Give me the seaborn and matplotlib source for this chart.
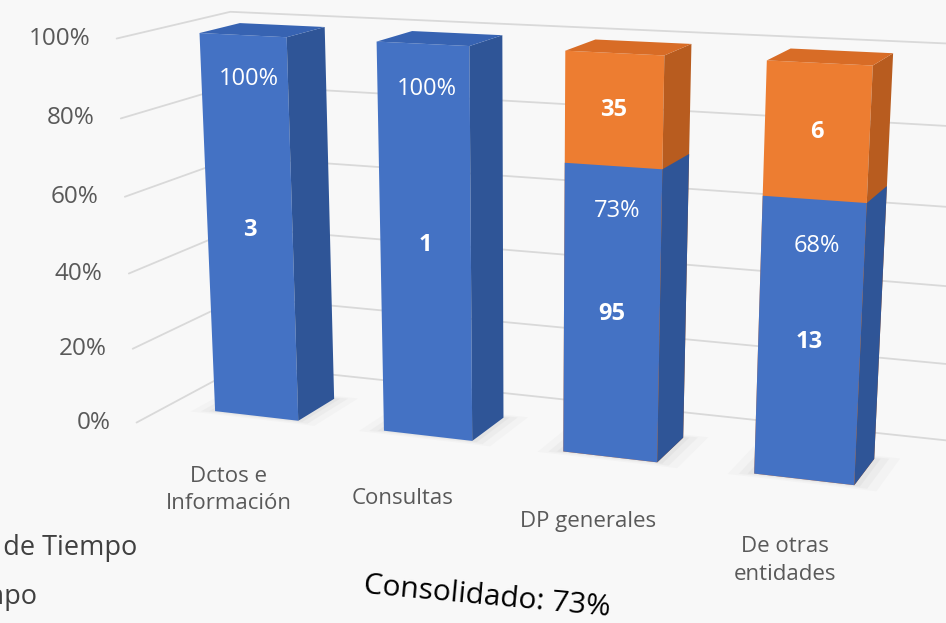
import numpy as np
import pandas as pd
import matplotlib
matplotlib.use("Agg")
import matplotlib.pyplot as plt
import matplotlib.transforms as mtransforms
from matplotlib.patches import Polygon
import seaborn as sns

categories = ["Dctos e\nInformación", "Consultas", "DP generales", "De otras\nentidades"]
en_tiempo = [3, 1, 95, 13]
fuera_tiempo = [0, 0, 35, 6]
legend_labels = ["Fuera de Tiempo", "En Tiempo"]
yticks = [0, 20, 40, 60, 80, 100]

# 3d view of the excel chart: camera matrix (x = category, y = share 0..1, z = depth) -> pixels
P = np.array([[1.58724e+02, -2.53328e+01, 4.64952e+01, 2.56385e+02],
              [6.97021e+00, -3.82494e+02, -8.78064e+00, 4.15915e+02],
              [-2.95582e-02, -4.81973e-02, 3.26131e-02, 1.0]])
D = 1.0            # bar depth
Zb = 1.99          # back wall
Xl, Zf = -0.54, -0.76   # side wall


def proj(X, Y, Z):
    h = P @ np.array([X, Y, Z, 1.0])
    return h[:2] / h[2]


class Persp(mtransforms.Transform):
    input_dims = output_dims = 2

    def transform_non_affine(self, xy):
        xy = np.asarray(xy, dtype=float)
        h = P @ np.vstack([xy[:, 0], xy[:, 1] / 100, np.zeros(len(xy)), np.ones(len(xy))])
        return np.column_stack([h[0] / h[2], h[1] / h[2]])


blue, blue_side, blue_top = "#4472C4", "#2F5597", "#3763B2"
orange, orange_side, orange_top = "#ED7D31", "#B85C1F", "#D86C26"
grid_c = "#D9D9D9"
bg = "#F8F8F8"

df = pd.DataFrame({"cat": categories, "en": en_tiempo, "fuera": fuera_tiempo})
df["pct"] = df["en"] / (df["en"] + df["fuera"]) * 100
df["top"] = np.where(df["fuera"] > 0, 100, 0)
consolidado = df["en"].sum() / (df["en"].sum() + df["fuera"].sum()) * 100

sns.set_theme(style="white")
plt.rcParams["font.family"] = ["Open Sans", "DejaVu Sans"]

fig = plt.figure(figsize=(9.46, 6.23), dpi=100, facecolor=bg)
ax = fig.add_axes([0, 0, 1, 1])
ax.set_facecolor(bg)

sns.barplot(data=df, x="cat", y="top", color=orange, saturation=1, width=0.5, linewidth=0, ax=ax)
sns.barplot(data=df, x="cat", y="pct", color=blue, saturation=1, width=0.5, linewidth=0, ax=ax)

tr = Persp() + ax.transData
for k, p in enumerate(ax.patches):
    is_blue = k >= len(df)
    x0, w, y0, h = p.get_x(), p.get_width(), p.get_y(), p.get_height()
    if h <= 0:
        p.set_visible(False)
        continue
    p.set_transform(tr)
    p.set_zorder(2)
    y1 = (y0 + h) / 100
    xr = x0 + w
    if is_blue:
        # soft floor shadow
        for s, a in [(0.12, 0.12), (0.07, 0.18), (0.03, 0.25)]:
            sh = [proj(x0 - s, 0, -s), proj(xr + s, 0, -s), proj(xr + s, 0, D + s), proj(x0 - s, 0, D + s)]
            ax.add_patch(Polygon(sh, closed=True, color="#D0D0D0", alpha=a, lw=0, zorder=1))
    side = [proj(xr, y0 / 100, 0), proj(xr, y1, 0), proj(xr, y1, D), proj(xr, y0 / 100, D)]
    ax.add_patch(Polygon(side, closed=True, color=blue_side if is_blue else orange_side, lw=0, zorder=2))
    if y1 >= 0.999:
        top = [proj(x0, 1, 0), proj(xr, 1, 0), proj(xr, 1, D), proj(x0, 1, D)]
        ax.add_patch(Polygon(top, closed=True, color=blue_top if is_blue else orange_top, lw=0, zorder=2))

# walls
for t in yticks:
    y = t / 100
    a, b, c = proj(Xl, y, Zf), proj(Xl, y, Zb), proj(4.6, y, Zb)
    ax.plot([a[0], b[0], c[0]], [a[1], b[1], c[1]], color=grid_c, lw=1.3, zorder=0)
    ax.text(a[0] - 26, a[1], f"{t}%", ha="right", va="center", fontsize=17.5, color="#595959")

# labels in bars
for i, r in df.iterrows():
    u, v = proj(i, (r["pct"] - 11) / 100, 0)
    ax.text(u + 4, v, f"{r['pct']:.0f}%", ha="center", va="center", fontsize=17, color="white", zorder=5)
    u, v = proj(i, r["pct"] / 200, 0)
    ax.text(u, v, f"{r['en']}", ha="center", va="center", fontsize=17, color="white", weight="bold", zorder=5)
    if r["fuera"] > 0:
        u, v = proj(i, (r["pct"] + 100) / 200, 0)
        ax.text(u, v, f"{r['fuera']}", ha="center", va="center", fontsize=17, color="white", weight="bold", zorder=5)
    u, v = proj(i, -0.1, -0.75)
    ax.text(u, v - 4, r["cat"], ha="center", va="top", fontsize=16, color="#595959", linespacing=1.4)

ax.text(137, 548, legend_labels[0], ha="right", va="center", fontsize=19.5, color="#404040")
ax.text(37, 597, legend_labels[1], ha="right", va="center", fontsize=19.5, color="#404040")
ax.text(487, 597, f"Consolidado: {consolidado:.0f}%", ha="center", va="center", fontsize=21.5,
        color="black", rotation=-5.3, rotation_mode="anchor")

ax.set_xlim(0, 946)
ax.set_ylim(623, 0)
ax.axis("off")
fig.savefig("out.png", dpi=100, facecolor=bg)
